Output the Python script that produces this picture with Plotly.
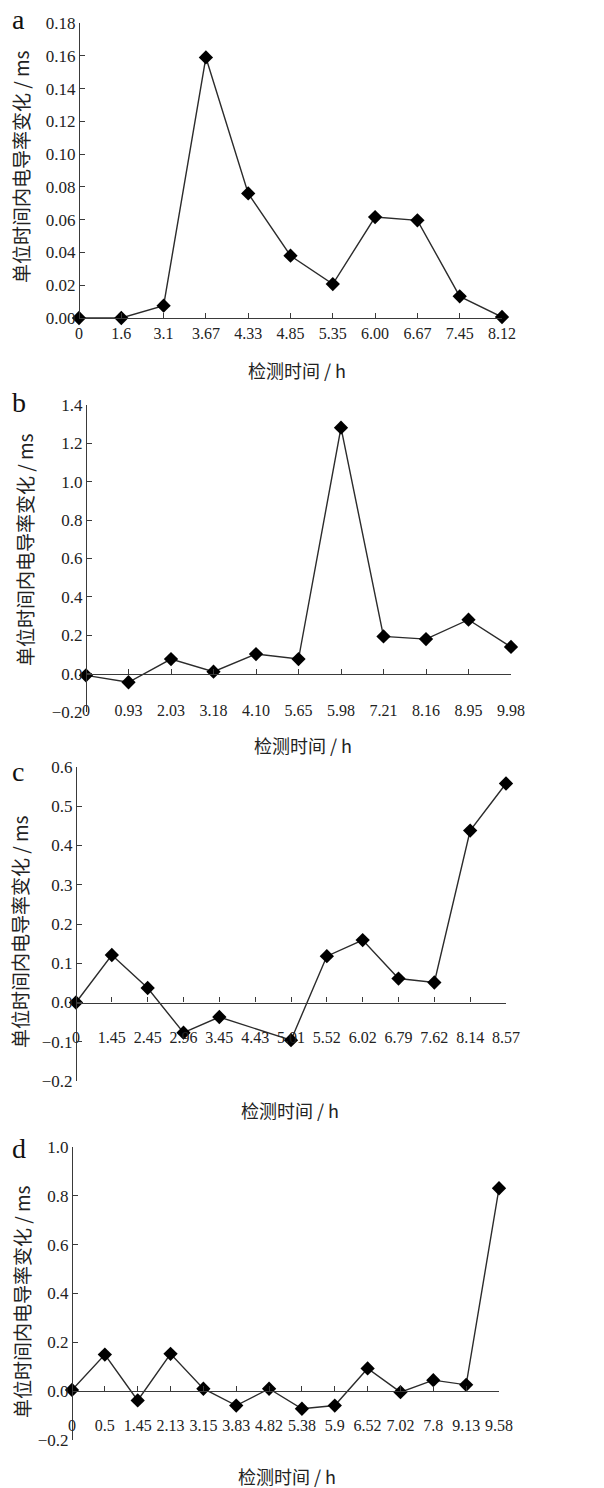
import plotly.graph_objects as go

W, H = 604, 1488

# ---- data ----
a_labels = ["0", "1.6", "3.1", "3.67", "4.33", "4.85", "5.35", "6.00", "6.67", "7.45", "8.12"]
a_values = [0.000, 0.000, 0.0075, 0.159, 0.076, 0.038, 0.0207, 0.0616, 0.0596, 0.0132, 0.0006]

b_labels = ["0", "0.93", "2.03", "3.18", "4.10", "5.65", "5.98", "7.21", "8.16", "8.95", "9.98"]
b_values = [-0.009, -0.045, 0.076, 0.010, 0.102, 0.076, 1.282, 0.194, 0.180, 0.281, 0.139]

c_labels = ["0", "1.45", "2.45", "2.96", "3.45", "4.43", "5.01", "5.52", "6.02", "6.79", "7.62", "8.14", "8.57"]
c_values = [0.000, 0.121, 0.037, -0.077, -0.037, None, -0.096, 0.118, 0.159, 0.061, 0.051, 0.438, 0.558]

d_labels = ["0", "0.5", "1.45", "2.13", "3.15", "3.83", "4.82", "5.38", "5.9", "6.52", "7.02", "7.8", "9.13", "9.58"]
d_values = [0.005, 0.150, -0.038, 0.153, 0.010, -0.059, 0.010, -0.072, -0.059, 0.093, -0.004, 0.045, 0.026, 0.831]

y_title = "单位时间内电导率变化 / ms"
x_title = "检测时间 / h"

panels = [
    dict(labels=a_labels, values=a_values, letter="a", yr=(0.0, 0.18), dtick=0.02, fmt=".2f",
         x0=79, x1=502, ytop=23, ybot=318, standoff=1,
         letter_xy=(18, 20), ytitle_xy=(21, 167), xtitle_xy=(297, 370)),
    dict(labels=b_labels, values=b_values, letter="b", yr=(-0.2, 1.4), dtick=0.2, fmt=".1f",
         x0=86, x1=511, ytop=405, ybot=712, standoff=22,
         letter_xy=(19, 402), ytitle_xy=(24, 550), xtitle_xy=(303, 745)),
    dict(labels=c_labels, values=c_values, letter="c", yr=(-0.2, 0.6), dtick=0.1, fmt=".1f",
         x0=76, x1=506, ytop=767, ybot=1081, standoff=20,
         letter_xy=(18, 771), ytitle_xy=(19, 932), xtitle_xy=(290, 1110)),
    dict(labels=d_labels, values=d_values, letter="d", yr=(-0.2, 1.0), dtick=0.2, fmt=".1f",
         x0=72, x1=499, ytop=1147, ybot=1440, standoff=20,
         letter_xy=(19, 1148), ytitle_xy=(21, 1302), xtitle_xy=(287, 1476)),
]

SERIF = "Liberation Serif, Times New Roman, Noto Sans CJK SC, serif"
CJK = "Noto Sans CJK SC, Liberation Serif, serif"
AXC = "#3a3a3a"

fig = go.Figure()
annotations = []
layout = {}

for i, p in enumerate(panels):
    k = "" if i == 0 else str(i + 1)
    n = len(p["labels"])
    xs = list(range(n))
    fig.add_trace(go.Scatter(
        x=xs, y=p["values"], mode="lines+markers",
        line=dict(color="#2b2b2b", width=1.4),
        marker=dict(symbol="diamond", size=11, color="#000000"),
        connectgaps=True, cliponaxis=False, showlegend=False,
        xaxis="x" + k, yaxis="y" + k,
    ))
    ymin, ymax = p["yr"]
    ydom = (1 - p["ybot"] / H, 1 - p["ytop"] / H)
    zero_frac = ydom[0] + (0 - ymin) / (ymax - ymin) * (ydom[1] - ydom[0])
    nt = int(round((ymax - ymin) / p["dtick"])) + 1
    tickvals = [round(ymin + j * p["dtick"], 4) for j in range(nt)]
    layout["xaxis" + k] = dict(
        domain=[p["x0"] / W, p["x1"] / W], range=[0, n - 1],
        anchor="free", position=zero_frac, automargin=False,
        showline=True, linecolor=AXC, linewidth=1.2,
        ticks="inside", ticklen=5, tickwidth=1.2, tickcolor=AXC,
        tickmode="array", tickvals=xs, ticktext=p["labels"], tickangle=0,
        ticklabelstandoff=p["standoff"],
        showgrid=False, zeroline=False,
        tickfont=dict(family=SERIF, size=16, color="#222"),
    )
    layout["yaxis" + k] = dict(
        domain=list(ydom), range=[ymin, ymax],
        anchor="free", position=p["x0"] / W, automargin=False,
        showline=True, linecolor=AXC, linewidth=1.2,
        ticks="inside", ticklen=5, tickwidth=1.2, tickcolor=AXC,
        tickmode="array", tickvals=tickvals, tickformat=p["fmt"],
        showgrid=False, zeroline=False,
        tickfont=dict(family=SERIF, size=17, color="#222"),
    )
    lx, ly = p["letter_xy"]
    annotations.append(dict(text=p["letter"], x=lx / W, y=1 - ly / H, xref="paper", yref="paper",
                            showarrow=False, xanchor="center", yanchor="middle",
                            font=dict(family=SERIF, size=28, color="#111")))
    tx, ty = p["ytitle_xy"]
    annotations.append(dict(text=y_title, x=tx / W, y=1 - ty / H, xref="paper", yref="paper",
                            showarrow=False, textangle=-90, xanchor="center", yanchor="middle",
                            font=dict(family=CJK, size=19, color="#222")))
    hx, hy = p["xtitle_xy"]
    annotations.append(dict(text=x_title, x=hx / W, y=1 - hy / H, xref="paper", yref="paper",
                            showarrow=False, xanchor="center", yanchor="middle",
                            font=dict(family=CJK, size=18, color="#222")))

fig.update_layout(
    width=W, height=H, margin=dict(l=0, r=0, t=0, b=0),
    paper_bgcolor="white", plot_bgcolor="white",
    annotations=annotations, **layout,
)

fig.write_html("out.html", config={"displayModeBar": False},
               post_script="document.body.style.margin='0';document.body.style.padding='0';")
